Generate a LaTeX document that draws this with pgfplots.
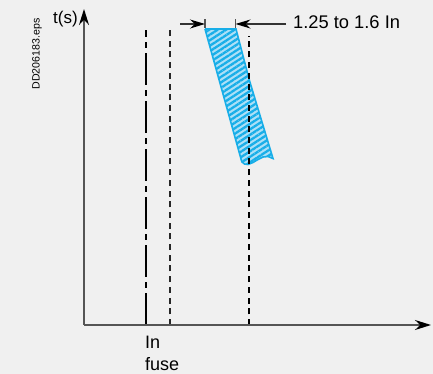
\documentclass[border=0pt]{standalone}
\usepackage{pgfplots}
\pgfplotsset{compat=1.18}
\usepackage{fontspec}
\setmainfont{Liberation Sans}
\usetikzlibrary{arrows.meta,patterns.meta}
\definecolor{bg}{HTML}{F0F0F0}
\definecolor{axiscol}{HTML}{555555}
\definecolor{bandcyan}{HTML}{18AEE8}
\definecolor{bandlight}{HTML}{ADE0F7}
\begin{document}
\begin{tikzpicture}
\begin{axis}[scale only axis, width=433bp, height=374bp,
  xmin=0, xmax=433, ymin=0, ymax=374, hide axis, clip=false]
% background
\addplot[fill=bg, draw=none] coordinates {(0,0)(433,0)(433,374)(0,374)(0,0)};
% band
\addplot[fill=bandlight, draw=none] coordinates {(205,345)(236,345)(249.3,294)(273,215.5)(268,217.5)(263,217)(258,214.5)(253,211.5)(248,209.5)(244.5,210)(242,212)(241,215)(205,345)};
\addplot[draw=bandcyan, line width=1.6bp, pattern={Lines[angle=33, distance=4.6bp, line width=2.3bp]}, pattern color=bandcyan] coordinates {(205,345)(236,345)(249.3,294)(273,215.5)(268,217.5)(263,217)(258,214.5)(253,211.5)(248,209.5)(244.5,210)(242,212)(241,215)(205,345)};
% vertical reference lines
\addplot[black, line width=1.3bp, dash pattern=on 32bp off 5bp on 6bp off 5bp] coordinates {(146,49)(146,344)};
\addplot[black!85, line width=1.4bp, dash pattern=on 6bp off 4.7bp] coordinates {(170,49)(170,345)};
\addplot[black, line width=1.2bp, dash pattern=on 6bp off 4.7bp] coordinates {(249,49)(249,338)};
% axes
\addplot[axiscol, line width=1.8bp, -{Stealth[length=16bp,width=10bp,black]}] coordinates {(84,49)(431,49)};
\addplot[axiscol, line width=1.8bp, -{Stealth[length=16bp,width=10bp,black]}] coordinates {(84,49)(84,365)};
% dimension marks
\addplot[axiscol, line width=1.5bp] coordinates {(205,346)(205,355)};
\addplot[axiscol, line width=1.5bp] coordinates {(235.5,346)(235.5,355)};
\addplot[black!80, line width=1.2bp, -{Stealth[length=15bp,width=9bp,black]}] coordinates {(180,350)(205,350)};
\addplot[black!80, line width=1.2bp, -{Stealth[length=15bp,width=9bp,black]}] coordinates {(286,350)(235.5,350)};
% texts
\node[anchor=base west, inner sep=0pt, font=\fontsize{18.3bp}{21bp}\selectfont] at (axis cs:293,345) {1.25 to 1.6 In};
\node[anchor=base west, inner sep=0pt, font=\fontsize{17bp}{19bp}\selectfont] at (axis cs:53,350) {t(s)};
\node[rotate=90, inner sep=0pt, font=\fontsize{10.6bp}{12bp}\selectfont] at (axis cs:37,320) {DD206183.eps};
\node[anchor=base west, inner sep=0pt, font=\fontsize{18bp}{20bp}\selectfont] at (axis cs:145,26) {In};
\node[anchor=base west, inner sep=0pt, font=\fontsize{18bp}{20bp}\selectfont] at (axis cs:145,4) {fuse};
\end{axis}
\end{tikzpicture}
\end{document}
